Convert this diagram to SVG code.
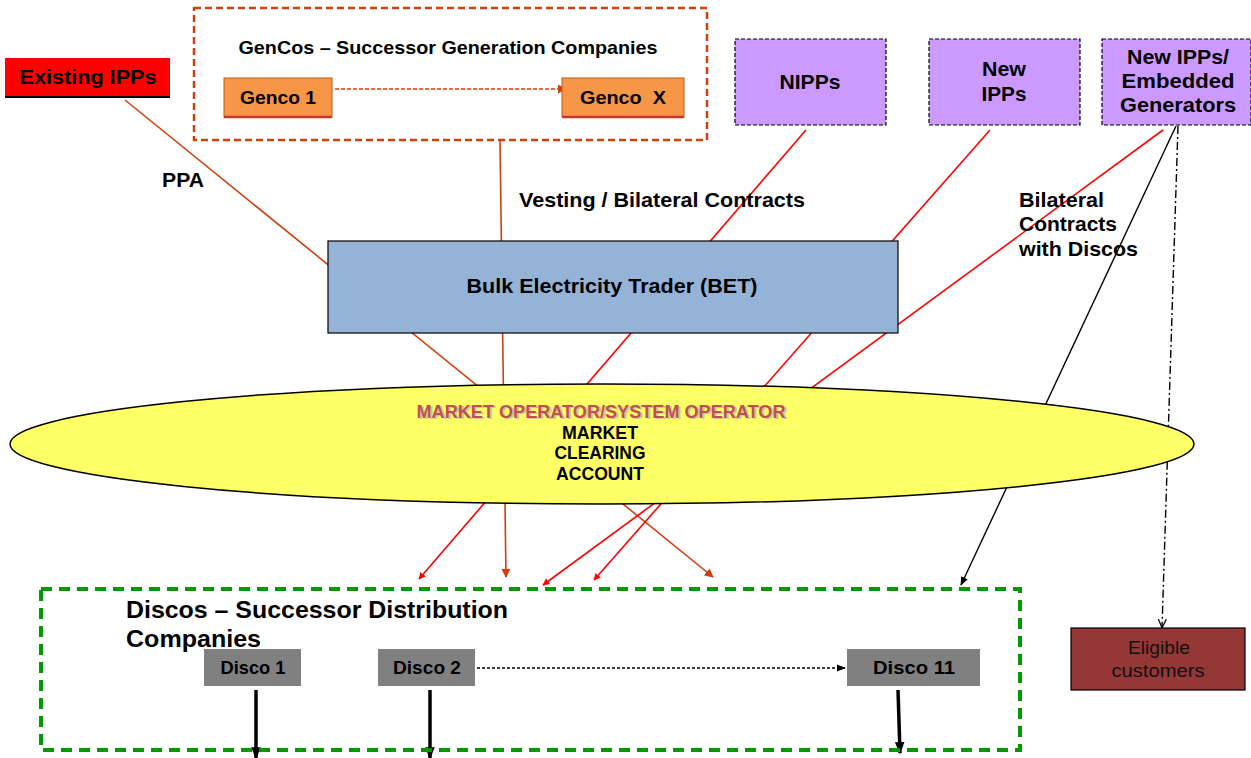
<svg xmlns="http://www.w3.org/2000/svg" width="1251" height="758" viewBox="0 0 1251 758">
<defs>
<style>
.t{font-family:"Liberation Sans",Arial,sans-serif;font-weight:bold;fill:#000}
.red{stroke:#ff0000;stroke-width:1.6;fill:none}
.org{stroke:#d0400f;stroke-width:1.6;fill:none}
</style>
<marker id="ar" viewBox="0 0 10 10" refX="9" refY="5" markerWidth="7" markerHeight="7" orient="auto" markerUnits="userSpaceOnUse"><path d="M0,0 L10,5 L0,10 z" fill="#ff0000"/></marker>
<marker id="ao" viewBox="0 0 10 10" refX="9" refY="5" markerWidth="9" markerHeight="9" orient="auto" markerUnits="userSpaceOnUse"><path d="M0,0 L10,5 L0,10 z" fill="#d0400f"/></marker>
<marker id="ab" viewBox="0 0 10 10" refX="9" refY="5" markerWidth="9" markerHeight="9" orient="auto" markerUnits="userSpaceOnUse"><path d="M0,1 L10,5 L0,9 z" fill="#000"/></marker>
<marker id="abig" viewBox="0 0 10 10" refX="9" refY="5" markerWidth="12" markerHeight="12" orient="auto" markerUnits="userSpaceOnUse"><path d="M0,1 L10,5 L0,9 z" fill="#000"/></marker>
<marker id="aopen" viewBox="0 0 10 10" refX="9" refY="5" markerWidth="10" markerHeight="10" orient="auto" markerUnits="userSpaceOnUse"><path d="M0,1 L9,5 L0,9" fill="none" stroke="#000" stroke-width="1.2"/></marker>
</defs>
<rect width="1251" height="758" fill="#fff"/>

<g id="connectors">
<line class="org" x1="125" y1="100" x2="713" y2="577" marker-end="url(#ao)"/>
<line class="org" x1="500" y1="140" x2="506" y2="577" marker-end="url(#ao)"/>
<line class="red" x1="806" y1="130" x2="419" y2="579" marker-end="url(#ar)"/>
<line class="red" x1="990" y1="130" x2="594" y2="580" marker-end="url(#ar)"/>
<line class="red" x1="1163" y1="130" x2="543" y2="585" marker-end="url(#ar)"/>
<line x1="1176" y1="126" x2="961" y2="585" stroke="#000" stroke-width="1.4" marker-end="url(#ab)"/>
<line x1="1178" y1="126" x2="1162" y2="628" stroke="#000" stroke-width="1.4" stroke-dasharray="8,3,2,3" marker-end="url(#aopen)"/>
<line x1="335" y1="89" x2="566" y2="89" stroke="#d0400f" stroke-width="1.6" stroke-dasharray="4,2" marker-end="url(#ao)"/>
<line x1="477" y1="668" x2="845" y2="668" stroke="#000" stroke-width="1.6" stroke-dasharray="3,2" marker-end="url(#ab)"/>
<line x1="256" y1="690" x2="256" y2="758" stroke="#000" stroke-width="3.5" marker-end="url(#abig)"/>
<line x1="430" y1="690" x2="430" y2="758" stroke="#000" stroke-width="3.5" marker-end="url(#abig)"/>
<line x1="898" y1="690" x2="900" y2="753" stroke="#000" stroke-width="3.5" marker-end="url(#abig)"/>
</g>

<g id="gencos">
<rect x="194" y="8" width="513" height="132" fill="none" stroke="#d0400f" stroke-width="2.5" stroke-dasharray="7,4"/>
<text class="t" x="448" y="54" font-size="19" text-anchor="middle" textLength="419" lengthAdjust="spacingAndGlyphs">GenCos – Successor Generation Companies</text>
</g>
<g id="genco1">
<rect x="224" y="78" width="108" height="39" fill="#f79646" stroke="#c65911" stroke-width="1"/>
<line x1="224" y1="117" x2="332" y2="117" stroke="#c0392b" stroke-width="2.5"/>
<text class="t" x="278" y="104" font-size="19" text-anchor="middle" textLength="76" lengthAdjust="spacingAndGlyphs">Genco 1</text>
</g>
<g id="gencox">
<rect x="562" y="78" width="122" height="39" fill="#f79646" stroke="#c65911" stroke-width="1"/>
<line x1="562" y1="117" x2="684" y2="117" stroke="#c0392b" stroke-width="2.5"/>
<text class="t" x="623" y="104" font-size="19" text-anchor="middle" textLength="86" lengthAdjust="spacingAndGlyphs" xml:space="preserve">Genco  X</text>
</g>
<g id="existing-ipps">
<rect x="5" y="58" width="165" height="39" fill="#ff0000"/>
<line x1="5" y1="97" x2="170" y2="97" stroke="#000" stroke-width="2"/>
<text class="t" x="88" y="84" font-size="21" text-anchor="middle" textLength="137" lengthAdjust="spacingAndGlyphs">Existing IPPs</text>
</g>
<g id="nipps">
<rect x="735" y="39" width="151" height="86" fill="#cc99ff" stroke="#000" stroke-width="1.2" stroke-dasharray="4,2"/>
<text class="t" x="810" y="89" font-size="20.5" text-anchor="middle" textLength="61" lengthAdjust="spacingAndGlyphs">NIPPs</text>
</g>
<g id="new-ipps">
<rect x="929" y="39" width="151" height="86" fill="#cc99ff" stroke="#000" stroke-width="1.2" stroke-dasharray="4,2"/>
<text class="t" x="1004" y="76" font-size="20.5" text-anchor="middle" textLength="44" lengthAdjust="spacingAndGlyphs">New</text>
<text class="t" x="1004" y="101" font-size="20.5" text-anchor="middle" textLength="45" lengthAdjust="spacingAndGlyphs">IPPs</text>
</g>
<g id="new-ipps-embedded">
<rect x="1102" y="39" width="149" height="86" fill="#cc99ff" stroke="#000" stroke-width="1.2" stroke-dasharray="4,2"/>
<text class="t" x="1178" y="64" font-size="20.5" text-anchor="middle" textLength="102" lengthAdjust="spacingAndGlyphs">New IPPs/</text>
<text class="t" x="1178" y="88" font-size="20.5" text-anchor="middle" textLength="113" lengthAdjust="spacingAndGlyphs">Embedded</text>
<text class="t" x="1178" y="112" font-size="20.5" text-anchor="middle" textLength="116" lengthAdjust="spacingAndGlyphs">Generators</text>
</g>

<g id="labels">
<text class="t" x="162" y="187" font-size="20" textLength="42" lengthAdjust="spacingAndGlyphs">PPA</text>
<text class="t" x="519" y="207" font-size="20.5" textLength="286" lengthAdjust="spacingAndGlyphs">Vesting / Bilateral Contracts</text>
<text class="t" x="1019" y="207" font-size="20.5" textLength="85" lengthAdjust="spacingAndGlyphs">Bilateral</text>
<text class="t" x="1019" y="231" font-size="20.5" textLength="98" lengthAdjust="spacingAndGlyphs">Contracts</text>
<text class="t" x="1019" y="256" font-size="20.5" textLength="119" lengthAdjust="spacingAndGlyphs">with Discos</text>
</g>

<g id="bet">
<rect x="328" y="241" width="570" height="92" fill="#95b3d7" stroke="#000" stroke-width="1.2"/>
<text class="t" x="612" y="293" font-size="21" text-anchor="middle" textLength="291" lengthAdjust="spacingAndGlyphs">Bulk Electricity Trader (BET)</text>
</g>

<g id="market-operator">
<ellipse cx="602" cy="444" rx="592" ry="60" fill="#ffff66" stroke="#000" stroke-width="1.5"/>
<text class="t" x="603" y="419" font-size="18" text-anchor="middle" style="fill:#c9c9a0" textLength="369" lengthAdjust="spacingAndGlyphs">MARKET OPERATOR/SYSTEM OPERATOR</text>
<text class="t" x="601" y="418" font-size="18" text-anchor="middle" style="fill:#c0504d" textLength="369" lengthAdjust="spacingAndGlyphs">MARKET OPERATOR/SYSTEM OPERATOR</text>
<text class="t" x="600" y="439" font-size="18" text-anchor="middle" textLength="76" lengthAdjust="spacingAndGlyphs">MARKET</text>
<text class="t" x="600" y="459" font-size="18" text-anchor="middle" textLength="91" lengthAdjust="spacingAndGlyphs">CLEARING</text>
<text class="t" x="600" y="480" font-size="18" text-anchor="middle" textLength="88" lengthAdjust="spacingAndGlyphs">ACCOUNT</text>
</g>

<g id="discos">
<rect x="41" y="589" width="979" height="161" fill="none" stroke="#009900" stroke-width="4" stroke-dasharray="11,7"/>
<text class="t" x="126" y="618" font-size="23" textLength="382" lengthAdjust="spacingAndGlyphs">Discos – Successor Distribution</text>
<text class="t" x="126" y="647" font-size="23" textLength="135" lengthAdjust="spacingAndGlyphs">Companies</text>
</g>
<g id="disco1">
<rect x="204" y="649" width="97" height="37" fill="#808080"/>
<text class="t" x="253" y="674" font-size="18" text-anchor="middle" textLength="65" lengthAdjust="spacingAndGlyphs">Disco 1</text>
</g>
<g id="disco2">
<rect x="378" y="649" width="97" height="37" fill="#808080"/>
<text class="t" x="427" y="674" font-size="18" text-anchor="middle" textLength="68" lengthAdjust="spacingAndGlyphs">Disco 2</text>
</g>
<g id="disco11">
<rect x="847" y="649" width="133" height="37" fill="#808080"/>
<text class="t" x="914" y="674" font-size="18" text-anchor="middle" textLength="82" lengthAdjust="spacingAndGlyphs">Disco 11</text>
</g>
<g id="eligible-customers">
<rect x="1071" y="628" width="174" height="62" fill="#953735" stroke="#000" stroke-width="1.2"/>
<text x="1159" y="654" font-size="19" text-anchor="middle" font-family="Liberation Sans, Arial, sans-serif" fill="#111" textLength="62" lengthAdjust="spacingAndGlyphs">Eligible</text>
<text x="1158" y="677" font-size="19" text-anchor="middle" font-family="Liberation Sans, Arial, sans-serif" fill="#111" textLength="93" lengthAdjust="spacingAndGlyphs">customers</text>
</g>
</svg>
